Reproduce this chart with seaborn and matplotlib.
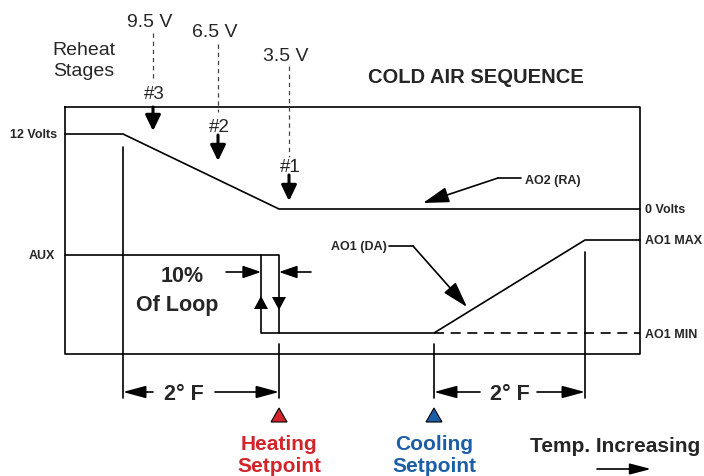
import matplotlib
matplotlib.use("Agg")
import matplotlib.pyplot as plt
import seaborn as sns
import pandas as pd

# canvas is the 704 x 476 picture, y grows downwards
BOX_X = [65, 640, 640, 65, 65]
BOX_Y = [107, 107, 354, 354, 107]

# AO2 (RA): 12 V until 2 F below heating setpoint, ramps to 0 V at setpoint
AO2_X = [65, 123, 279, 640]
AO2_Y = [134, 134, 209, 209]

# AO1 (DA): AUX until heating setpoint, min until cooling setpoint, ramps to max over 2 F
AO1_X = [65, 279, 279, 434, 585, 640]
AO1_Y = [255, 255, 333, 333, 240, 240]
LOOP_X = [261, 261, 279]
LOOP_Y = [255, 333, 333]
MIN_X = [434, 640]
MIN_Y = [333, 333]

STAGE_VOLTS = ["9.5 V", "6.5 V", "3.5 V"]
STAGE_NUMS = ["#3", "#2", "#1"]
STAGE_X = [153, 218, 289]
STAGE_TXT_Y = [27, 37, 61]
STAGE_DASH_TOP = [33, 44, 66]
STAGE_DASH_BOT = [82, 112, 157]
STAGE_NUM_Y = [99, 132, 172]
STAGE_ARR_TOP = [107, 135, 175]
STAGE_ARR_BOT = [131, 161, 201]

SETPOINT_NAMES = ["Heating", "Cooling"]
SETPOINT_X = [279, 434]
SETPOINT_COLORS = ["#d3242c", "#1b5ea6"]

RIGHT_LABELS = ["0 Volts", "AO1 MAX", "AO1 MIN"]
RIGHT_Y = [213, 244, 338]

sns.set_theme(style="white")
plt.rcParams["font.family"] = ["Liberation Sans", "DejaVu Sans"]

fig = plt.figure(figsize=(7.04, 4.76), dpi=100)
ax = fig.add_axes([0, 0, 1, 1])

LW = 1.2
SMALL = 9


def path(xs, ys, **kw):
    df = pd.DataFrame({"x": xs, "y": ys})
    sns.lineplot(data=df, x="x", y="y", sort=False, estimator=None,
                 color=kw.pop("color", "black"), lw=kw.pop("lw", LW), ax=ax, **kw)


def arrow(x0, y0, x1, y1, hl=14, hw=3.6, lw=LW):
    ax.annotate("", xy=(x1, y1), xytext=(x0, y0),
                arrowprops=dict(arrowstyle=f"-|>,head_length={hl},head_width={hw}",
                                lw=lw, color="black", shrinkA=0, shrinkB=0,
                                mutation_scale=1))


path(BOX_X, BOX_Y)
path(AO2_X, AO2_Y)
path(AO1_X, AO1_Y)
path(LOOP_X, LOOP_Y)
path(MIN_X, MIN_Y, linestyle=(0, (6, 4)))

# dimension verticals
path([123, 123], [147, 398])
path([279, 279], [344, 398])
path([434, 434], [344, 398])
path([585, 585], [252, 398])

# 2 F dimension arrows
arrow(153, 392, 123, 392, hl=14, hw=3.8)
arrow(215, 392, 279, 392, hl=14, hw=3.8)
arrow(480, 392, 434, 392, hl=14, hw=3.8)
arrow(537, 392, 585, 392, hl=14, hw=3.8)
ax.text(184, 400, "2° F", ha="center", va="baseline", fontsize=15.5, fontweight="bold")
ax.text(510, 400, "2° F", ha="center", va="baseline", fontsize=15.5, fontweight="bold")

# reheat stages
for v, n, x, ty, d0, d1, ny, a0, a1 in zip(STAGE_VOLTS, STAGE_NUMS, STAGE_X, STAGE_TXT_Y,
                                           STAGE_DASH_TOP, STAGE_DASH_BOT, STAGE_NUM_Y,
                                           STAGE_ARR_TOP, STAGE_ARR_BOT):
    ax.text(x - 3, ty, v, ha="center", va="baseline", fontsize=14)
    ax.plot([x, x], [d0, d1], color="#444444", lw=0.9, linestyle=(0, (3.5, 3)))
    ax.text(x + 1, ny, n, ha="center", va="baseline", fontsize=13.5)
    arrow(x, a0, x, a1, hl=9.5, hw=4.6, lw=2.2)
ax.text(84, 55, "Reheat", ha="center", va="baseline", fontsize=14)
ax.text(84, 76, "Stages", ha="center", va="baseline", fontsize=14)

ax.text(476, 83, "COLD AIR SEQUENCE", ha="center", va="baseline", fontsize=14.5, fontweight="bold")

# left labels
ax.text(57, 138, "12 Volts", ha="right", va="baseline", fontsize=SMALL, fontweight="bold")
ax.text(55, 259, "AUX", ha="right", va="baseline", fontsize=SMALL, fontweight="bold")

# right labels
for lab, y in zip(RIGHT_LABELS, RIGHT_Y):
    ax.text(645, y, lab, ha="left", va="baseline", fontsize=SMALL, fontweight="bold")

# output callouts
ax.text(525, 184, "AO2 (RA)", ha="left", va="baseline", fontsize=SMALL, fontweight="bold")
ax.plot([498, 521], [178, 178], color="black", lw=LW)
arrow(498, 178, 423, 203, hl=16, hw=4.8)
ax.text(387, 250, "AO1 (DA)", ha="right", va="baseline", fontsize=SMALL, fontweight="bold")
ax.plot([389, 413], [246, 246], color="black", lw=LW)
arrow(413, 246, 467, 307, hl=16, hw=4.8)

# hysteresis: 10% of loop
arrow(226, 272, 261, 272, hl=11, hw=3.8)
arrow(311, 272, 279, 272, hl=11, hw=3.8)
ax.fill([254, 268, 261], [309, 309, 296], color="black", lw=0)
ax.fill([272, 286, 279], [297, 297, 310], color="black", lw=0)
ax.text(182, 282, "10%", ha="center", va="baseline", fontsize=15.5, fontweight="bold")
ax.text(177, 311, "Of Loop", ha="center", va="baseline", fontsize=15.5, fontweight="bold")

# setpoints
for name, x, c in zip(SETPOINT_NAMES, SETPOINT_X, SETPOINT_COLORS):
    ax.fill([x - 8, x + 8, x], [422, 422, 408], facecolor=c, edgecolor="black", lw=0.8)
    ax.text(x, 450, name, ha="center", va="baseline", fontsize=15, fontweight="bold", color=c)
    ax.text(x, 472, "Setpoint", ha="center", va="baseline", fontsize=15, fontweight="bold", color=c)

ax.text(615, 452, "Temp. Increasing", ha="center", va="baseline", fontsize=15, fontweight="bold")
arrow(597, 469, 651, 469, hl=13, hw=3.4)

ax.set_xlim(0, 704)
ax.set_ylim(476, 0)
ax.axis("off")

fig.savefig("out.png", dpi=100)
